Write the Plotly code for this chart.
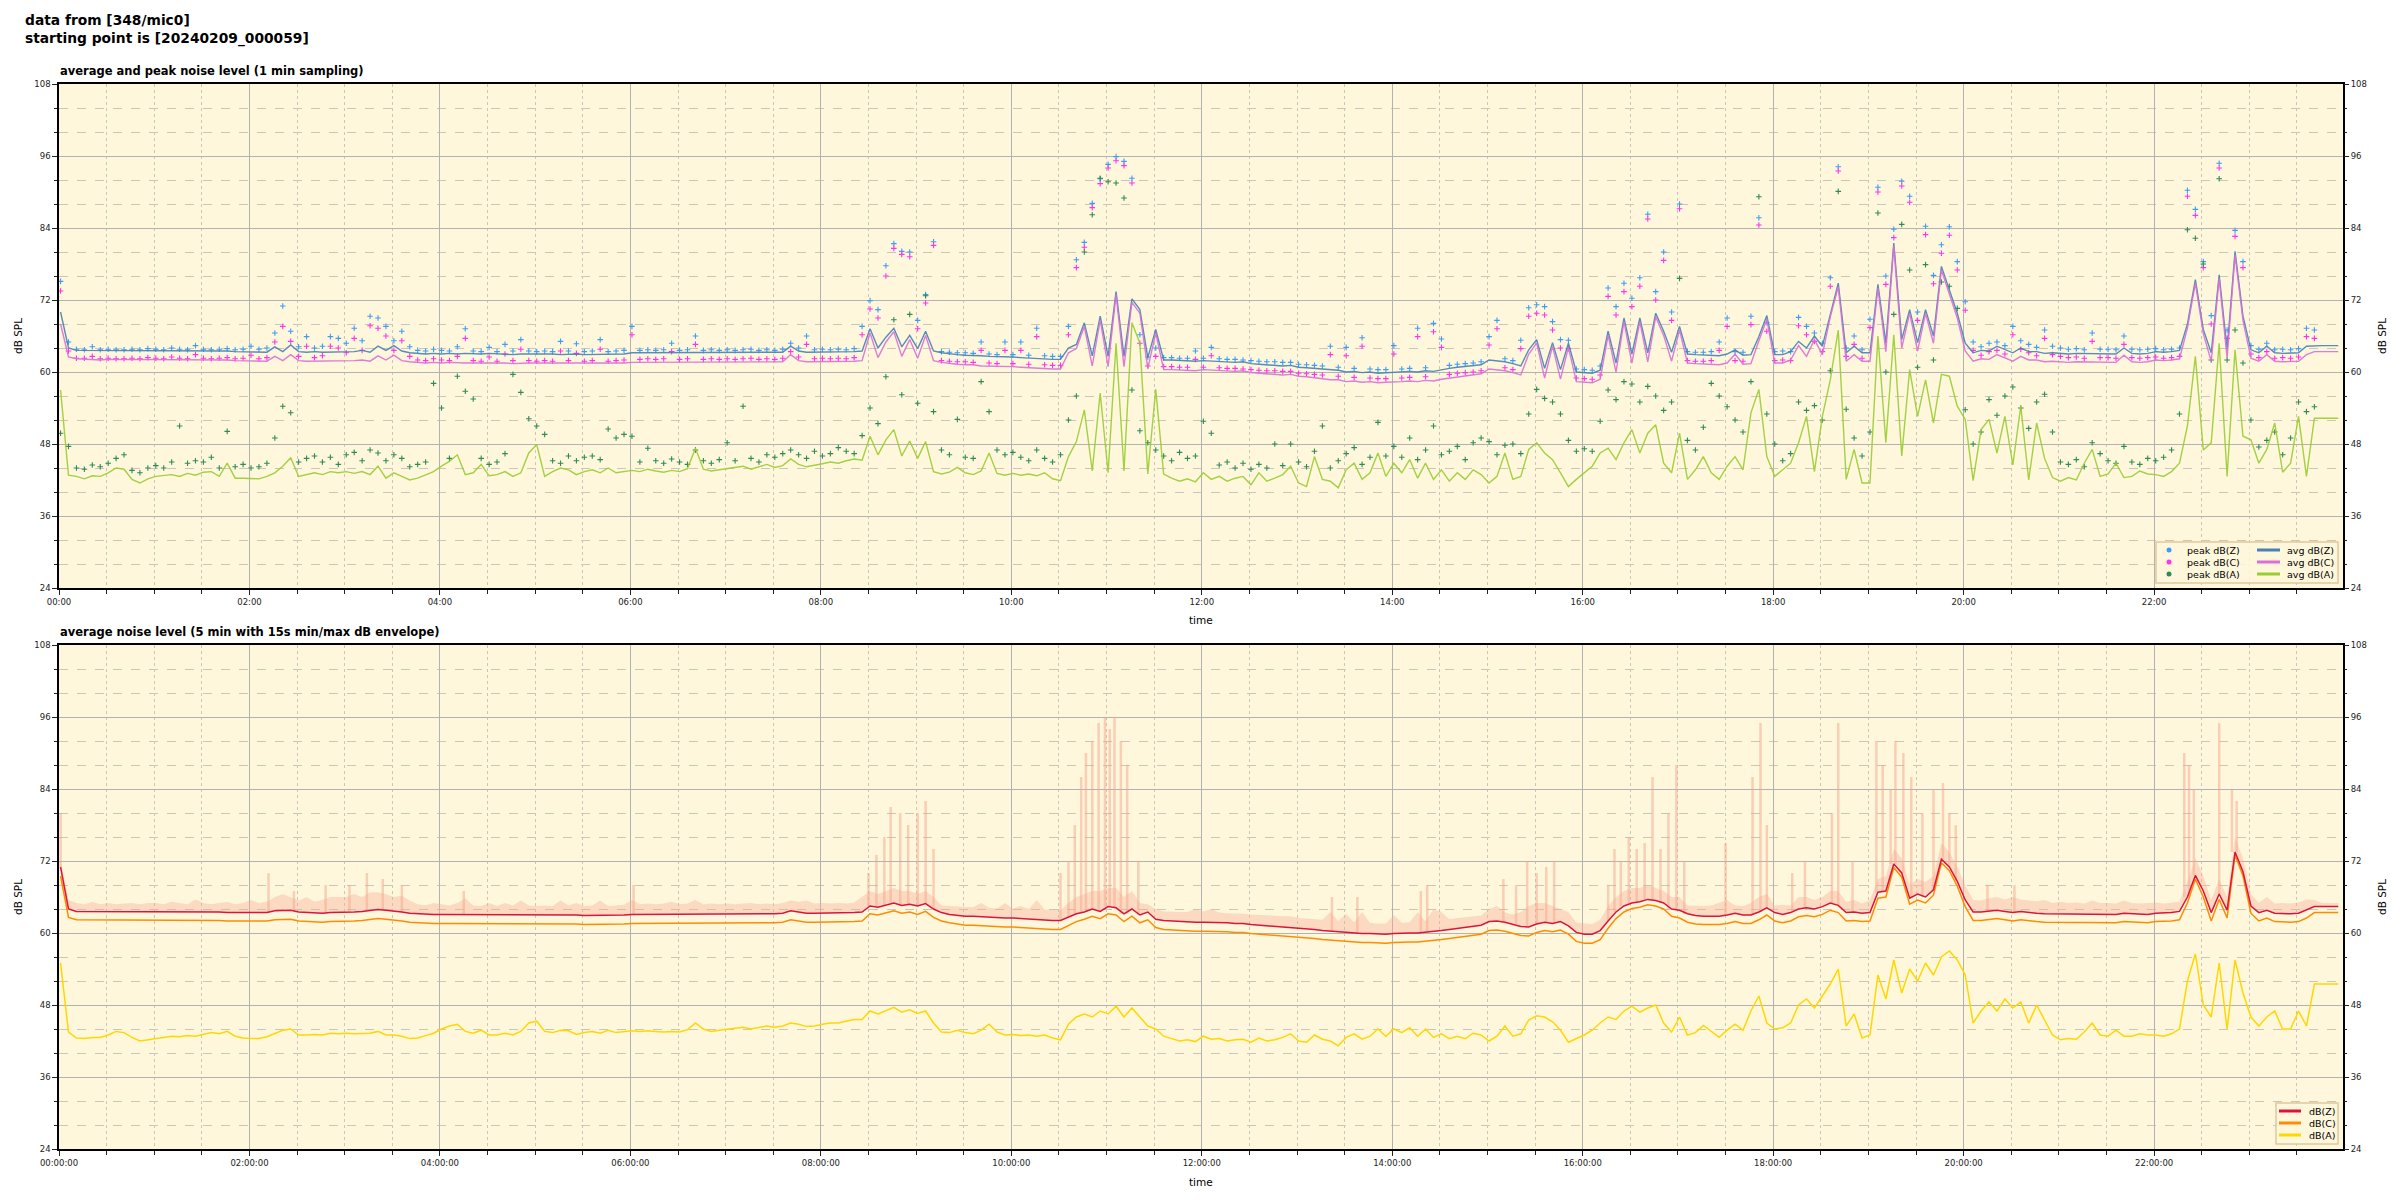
import plotly.graph_objects as go
import pandas as pd

# ---------------- data (5-minute slots, starting 2024-02-09 00:00:59) ----------------
START = "2024-02-09 00:00:59"
DAY = "2024-02-09"
N_SLOTS = 288

avg_z = [
70.0,64.0,63.6,63.6,63.5,63.5,63.6,63.5,63.5,63.6,63.5,63.5,
63.6,63.5,63.6,63.6,63.5,63.5,63.6,63.6,63.5,63.5,63.4,63.4,
63.3,63.3,63.3,64.2,63.4,64.5,63.4,63.3,63.4,63.3,63.3,63.4,
63.3,63.4,63.6,63.3,64.3,63.6,64.4,63.5,63.2,63.1,63.0,63.1,
63.0,63.1,63.0,63.1,63.0,63.0,63.1,63.0,63.0,62.9,63.0,63.0,
63.0,63.1,63.0,62.9,63.0,63.0,62.9,62.9,63.0,62.9,63.0,63.0,
63.2,63.2,63.3,63.2,63.2,63.3,63.2,63.3,63.2,63.2,63.3,63.2,
63.3,63.2,63.2,63.3,63.3,63.2,63.2,63.3,64.3,63.5,63.3,63.3,
63.3,63.3,63.4,63.3,63.4,63.5,67.2,64.0,65.8,67.3,64.2,66.1,
63.9,66.8,63.5,63.2,63.0,62.9,62.8,62.8,62.7,62.6,62.6,62.5,
62.5,62.4,62.3,62.3,62.2,62.1,62.1,64.0,64.6,68.2,62.7,69.3,
62.6,73.4,62.6,72.2,70.4,62.4,67.1,62.0,62.0,61.9,61.8,61.8,
61.9,61.8,61.8,61.7,61.6,61.7,61.4,61.3,61.2,61.2,61.0,61.1,
60.8,60.7,60.6,60.5,60.3,60.3,60.0,60.1,59.9,60.0,59.8,59.9,
59.9,60.0,60.1,60.0,60.2,60.1,60.4,60.6,60.8,60.9,61.0,61.2,
62.0,61.9,61.7,61.4,61.0,63.7,65.4,60.6,64.9,60.4,64.8,60.0,
59.9,59.8,60.3,66.8,61.5,69.0,63.0,69.0,63.2,69.8,66.8,63.3,
67.6,63.0,62.9,62.8,62.8,62.7,63.0,63.7,62.8,62.9,65.9,69.4,
62.9,62.9,63.4,65.1,64.0,66.0,64.3,69.8,74.8,63.2,64.3,63.2,
63.2,74.6,64.8,81.5,65.4,70.4,64.9,70.4,66.0,77.6,73.7,69.8,
64.8,63.2,63.6,63.5,64.3,63.7,63.2,64.0,63.4,63.4,63.1,63.2,
63.1,63.0,63.1,63.1,63.0,63.1,63.1,63.0,64.0,63.1,63.0,63.1,
63.4,63.3,63.4,63.6,68.0,75.4,67.1,63.2,76.2,63.7,80.1,69.3,
63.7,63.2,64.3,63.2,63.1,63.2,63.2,64.3,64.4,64.4,64.4,64.4,
]

avg_c = [
68.0,62.5,62.2,62.1,62.1,62.0,62.1,62.1,62.0,62.1,62.0,62.0,
62.1,62.0,62.1,62.1,62.0,62.0,62.1,62.0,62.0,62.0,61.9,61.9,
61.8,61.8,61.8,62.6,61.9,62.9,61.9,61.8,61.8,61.8,61.8,61.9,
61.8,61.9,62.0,61.8,62.7,62.0,62.8,61.9,61.7,61.6,61.5,61.6,
61.5,61.6,61.5,61.5,61.5,61.5,61.6,61.5,61.5,61.4,61.5,61.5,
61.5,61.5,61.5,61.4,61.5,61.5,61.4,61.4,61.5,61.4,61.5,61.5,
61.6,61.6,61.7,61.6,61.6,61.7,61.6,61.7,61.6,61.6,61.7,61.6,
61.7,61.6,61.6,61.7,61.7,61.6,61.6,61.7,62.9,61.9,61.7,61.7,
61.7,61.7,61.8,61.7,61.8,61.9,66.5,62.4,65.0,66.7,62.6,65.4,
62.3,66.1,61.9,61.6,61.4,61.3,61.2,61.2,61.0,61.0,60.9,60.9,
60.9,60.8,60.7,60.7,60.6,60.5,60.5,63.2,63.9,67.6,61.0,68.7,
60.9,72.9,60.9,71.6,69.8,60.6,66.5,60.4,60.4,60.3,60.3,60.2,
60.4,60.3,60.3,60.2,60.1,60.2,59.9,59.8,59.7,59.7,59.5,59.6,
59.3,59.2,59.0,58.9,58.7,58.7,58.4,58.5,58.3,58.4,58.2,58.3,
58.3,58.4,58.5,58.4,58.6,58.5,58.8,59.0,59.2,59.3,59.5,59.7,
60.5,60.4,60.2,59.9,59.5,63.0,64.8,59.0,64.3,58.8,64.1,58.4,
58.3,58.2,58.8,66.1,60.0,68.4,61.5,68.4,61.7,69.2,66.1,61.8,
67.0,61.5,61.4,61.3,61.3,61.2,61.5,63.0,61.3,61.4,65.2,68.8,
61.5,61.5,62.0,64.4,62.6,65.4,62.9,69.2,74.2,61.8,62.9,61.8,
61.8,74.0,63.4,81.0,64.0,69.8,63.5,69.8,64.8,77.0,73.0,69.0,
63.5,61.8,62.2,62.1,62.9,62.3,61.8,62.6,62.0,62.0,61.7,61.8,
61.7,61.6,61.7,61.7,61.6,61.7,61.7,61.6,62.8,61.7,61.6,61.7,
62.0,61.9,62.0,62.2,67.3,74.8,66.4,61.8,75.6,62.3,79.5,68.6,
62.3,61.8,62.9,61.8,61.7,61.8,61.8,62.9,63.4,63.4,63.4,63.4,
]

avg_a = [
57.0,42.8,42.6,42.2,42.7,42.6,43.2,44.0,43.8,42.1,41.5,42.2,
42.6,42.7,42.9,42.6,43.1,42.8,43.3,43.4,42.6,44.8,42.3,42.3,
42.3,42.2,42.6,43.2,44.3,45.7,42.6,42.9,43.2,42.9,43.4,43.2,
43.4,43.1,43.4,42.9,44.3,42.3,43.2,42.6,42.0,42.3,42.8,43.4,
44.3,45.1,46.2,42.9,43.2,44.6,42.7,42.9,43.4,42.6,43.2,46.5,
47.9,42.6,43.4,44.0,43.7,42.9,43.4,43.7,43.2,44.0,43.2,43.4,
43.6,43.4,43.8,43.5,43.3,43.6,43.4,43.9,47.3,43.8,43.5,43.7,
43.9,44.0,44.3,43.8,44.2,44.6,44.1,44.4,45.5,44.6,44.2,44.4,
44.7,45.0,44.8,45.2,45.5,45.3,49.3,46.2,48.7,50.4,46.0,48.5,
45.6,48.4,43.4,43.0,43.3,44.1,43.2,42.9,43.5,46.5,43.1,42.8,
43.1,42.8,43.0,42.7,43.2,42.2,41.9,45.9,48.4,53.7,43.5,56.5,
43.2,64.8,43.5,68.2,64.8,43.0,57.1,43.0,42.3,41.8,42.2,41.7,
43.2,42.1,42.6,41.8,42.3,42.6,41.2,43.2,41.8,42.3,42.9,44.3,
41.5,40.9,45.9,42.1,41.8,40.7,43.7,44.8,42.1,43.2,46.5,42.6,
44.8,43.2,45.4,42.3,44.8,42.1,43.7,41.8,43.2,42.1,43.7,42.9,
41.5,42.6,46.5,42.1,42.6,47.1,48.2,46.5,45.4,43.2,40.9,42.1,
43.2,44.3,46.5,47.3,45.4,48.2,50.4,46.5,49.8,51.2,44.8,43.2,
49.8,42.1,43.7,45.9,43.2,42.1,44.3,45.9,43.7,53.2,57.1,45.9,
42.6,43.7,44.8,48.2,52.6,43.4,52.6,58.7,67.0,42.1,47.1,41.5,
41.5,66.0,48.2,66.2,46.0,60.4,52.6,58.7,51.5,59.6,59.3,54.3,
52.1,41.9,50.4,52.1,46.5,52.6,44.5,54.3,42.0,51.5,45.6,42.4,
41.8,42.4,42.0,44.8,47.1,42.6,43.0,44.8,42.4,42.6,43.5,43.0,
42.9,42.6,43.4,44.8,51.0,62.6,47.0,48.2,64.8,42.6,63.7,49.3,
48.7,44.8,47.1,51.5,43.3,44.8,52.6,42.6,52.3,52.3,52.3,52.3,
]

peak_z = [
75.1,65.0,63.8,63.7,64.2,63.7,63.8,63.7,63.7,63.8,63.7,63.9,
63.8,63.7,64.0,63.8,63.7,64.4,63.8,63.7,63.8,63.9,63.7,63.8,
64.3,63.8,64.0,66.5,71.0,66.8,64.2,65.9,64.0,64.3,65.9,65.6,
64.8,67.3,65.2,69.3,69.0,67.6,65.2,66.8,64.2,63.6,63.5,63.8,
63.6,63.5,64.2,67.2,63.5,63.4,64.1,63.4,64.6,63.5,65.4,63.5,
63.4,63.5,63.4,65.1,63.5,64.7,63.4,63.5,65.4,63.4,63.5,63.6,
67.6,63.6,63.7,63.6,63.7,64.8,63.6,63.7,66.0,63.6,63.7,63.6,
63.7,63.6,63.7,63.8,63.6,63.7,63.6,63.8,64.8,64.0,66.0,63.7,
63.8,63.7,63.8,63.7,63.9,67.6,71.9,70.4,77.7,81.4,80.1,80.0,
68.6,72.9,81.7,63.4,63.3,63.2,63.2,63.1,65.0,63.0,62.9,65.0,
62.9,65.0,62.8,67.3,62.7,62.6,62.6,67.6,78.7,81.6,88.1,92.2,
94.6,95.9,95.1,92.3,66.2,62.5,64.0,62.4,62.4,62.3,62.3,63.5,
62.3,64.1,62.2,62.1,62.1,62.0,61.9,61.8,61.7,61.7,61.6,61.6,
61.3,61.2,61.1,61.0,64.3,60.8,64.1,60.6,65.7,60.5,60.4,60.4,
64.4,60.5,60.6,67.3,60.7,68.1,65.5,61.1,61.3,61.4,61.5,61.7,
65.9,68.6,62.2,61.9,65.3,70.7,71.2,70.9,68.4,65.4,65.3,60.5,
60.4,60.3,61.0,74.0,70.9,74.8,72.3,75.7,86.3,73.4,80.0,70.0,
88.0,63.4,63.3,63.3,63.4,65.0,69.0,63.4,63.3,69.3,85.7,68.2,
63.4,63.5,63.4,69.1,67.6,66.5,64.8,75.7,94.2,64.0,66.0,63.7,
68.8,90.8,76.0,83.8,91.8,89.3,70.0,84.3,76.1,81.2,84.2,78.4,
71.7,65.0,64.2,64.8,65.0,64.4,67.6,65.2,64.6,64.1,67.0,64.3,
64.0,63.8,63.9,63.7,66.5,63.8,63.8,63.7,66.0,63.8,63.7,63.8,
63.9,63.7,63.8,64.0,90.3,87.1,78.4,69.4,94.8,67.0,83.6,78.4,
64.4,63.8,64.8,63.7,63.8,63.7,63.9,67.3,67.0,None,None,None,
]

peak_c = [
73.5,63.5,62.3,62.3,62.6,62.2,62.3,62.2,62.2,62.3,62.2,62.4,
62.3,62.2,62.5,62.3,62.2,62.9,62.3,62.2,62.3,62.4,62.2,62.3,
62.8,62.2,62.4,65.0,67.6,65.1,62.6,64.3,62.4,62.7,64.3,64.0,
63.2,65.6,63.6,67.7,67.3,66.0,63.6,65.2,62.6,62.0,61.9,62.2,
62.0,61.9,62.6,65.6,61.9,61.8,62.5,61.8,63.0,61.9,63.8,61.9,
61.8,61.9,61.8,63.5,61.9,63.1,61.8,61.9,63.8,61.8,61.9,62.0,
66.2,62.1,62.2,62.1,62.2,63.4,62.1,62.2,64.6,62.1,62.2,62.1,
62.2,62.1,62.2,62.3,62.1,62.2,62.1,62.3,63.4,62.5,64.6,62.2,
62.3,62.2,62.3,62.2,62.4,66.2,70.5,69.0,76.0,80.6,79.6,79.2,
67.2,71.5,81.1,61.9,61.8,61.7,61.7,61.6,63.6,61.5,61.4,63.6,
61.4,63.6,61.3,65.9,61.2,61.1,61.1,66.2,77.4,80.8,87.4,91.4,
94.0,95.2,94.4,91.5,64.8,61.0,62.6,60.9,60.9,60.8,60.8,62.1,
60.8,62.7,60.7,60.6,60.6,60.5,60.4,60.3,60.2,60.2,60.1,60.1,
59.8,59.7,59.6,59.5,62.9,59.3,62.7,59.1,64.3,59.0,58.9,58.9,
63.0,59.0,59.1,65.9,59.2,66.7,64.1,59.6,59.8,59.9,60.0,60.2,
64.5,67.2,60.7,60.4,63.9,69.3,69.8,69.5,67.0,64.0,63.9,59.0,
58.9,58.8,59.5,72.6,69.5,73.4,70.9,74.3,85.5,72.0,78.6,68.6,
87.2,61.9,61.8,61.8,61.9,63.6,67.6,61.9,61.8,67.9,84.5,66.8,
61.9,62.0,61.9,67.7,66.2,65.1,63.4,74.3,93.5,62.6,64.6,62.3,
67.4,90.0,74.6,82.4,91.0,88.3,68.6,82.9,74.7,79.8,82.8,77.0,
70.3,63.6,62.8,63.4,63.6,63.0,66.2,63.8,63.2,62.7,65.6,62.9,
62.6,62.4,62.5,62.3,65.1,62.4,62.4,62.3,64.6,62.4,62.3,62.4,
62.5,62.3,62.4,62.6,89.3,86.1,77.4,68.0,94.0,65.6,82.6,77.4,
63.0,62.4,63.4,62.3,62.4,62.3,62.5,65.9,65.6,None,None,None,
]

peak_a = [
49.8,47.6,44.0,43.8,44.5,44.2,44.8,45.6,46.2,43.6,43.2,44.0,
44.4,44.0,45.0,51.0,44.8,45.2,45.0,45.8,44.0,50.1,44.2,44.6,
44.0,44.2,44.8,49.0,54.3,53.2,45.0,45.6,46.0,45.0,45.8,44.6,
46.2,46.6,45.2,47.0,46.5,45.2,46.2,45.6,44.2,44.6,45.0,58.1,
54.0,45.6,59.3,56.8,55.5,45.6,44.6,45.0,46.4,59.6,56.6,52.2,
51.0,49.6,45.2,44.8,46.0,45.2,45.8,46.0,45.4,50.5,49.0,49.6,
49.3,45.0,47.3,45.2,44.8,45.5,45.0,44.6,47.0,45.2,44.8,45.4,
48.2,45.2,54.3,45.6,45.0,46.2,45.8,46.4,47.0,46.2,45.6,46.8,
46.0,46.4,47.4,46.8,46.4,49.4,54.0,51.4,59.2,68.7,56.2,69.6,
54.8,72.7,53.4,47.0,46.2,52.1,45.8,45.6,58.4,53.4,47.0,46.2,
46.6,45.8,45.2,47.0,45.6,45.0,46.2,52.0,56.0,80.0,86.2,92.3,
91.7,91.5,89.0,57.0,50.2,48.2,47.0,46.0,45.2,46.6,45.6,46.0,
51.8,49.8,44.5,45.0,44.0,44.8,43.8,44.6,44.0,48.0,44.4,48.0,
45.0,44.2,46.8,51.0,44.0,45.2,46.4,47.4,44.6,45.8,51.6,46.0,
47.6,45.8,49.0,45.4,47.0,51.0,46.2,46.8,47.6,45.4,48.2,49.0,
48.4,46.2,47.8,48.0,46.4,53.0,57.1,55.6,55.0,53.0,48.6,46.8,
47.2,46.8,51.8,57.0,55.4,58.4,58.0,55.0,57.6,56.0,53.6,55.0,
75.6,48.6,47.0,50.8,58.1,56.0,54.2,52.0,50.0,58.4,89.2,53.0,
48.0,45.2,46.4,55.0,53.6,54.4,52.0,60.2,90.1,53.8,49.0,46.0,
50.0,86.5,60.0,69.6,84.6,77.0,60.8,77.9,62.0,75.0,74.3,70.6,
53.7,48.0,50.0,55.4,52.8,56.0,57.5,54.0,50.6,55.0,56.3,50.0,
45.0,44.6,45.4,44.2,48.2,46.4,45.2,44.8,47.6,45.0,44.6,45.6,
45.2,45.8,47.0,53.0,83.7,82.3,78.0,62.0,92.2,62.0,67.0,61.5,
52.0,47.5,48.6,50.0,46.2,49.0,55.0,53.4,54.2,None,None,None,
]

# ---- lower panel: 5-min averages
bot_z = [
71.0,64.0,63.6,63.6,63.5,63.5,63.5,63.5,63.5,63.5,63.5,63.5,
63.5,63.5,63.5,63.5,63.5,63.5,63.5,63.5,63.5,63.4,63.4,63.4,
63.3,63.3,63.4,63.7,63.8,63.8,63.5,63.4,63.4,63.3,63.4,63.4,
63.4,63.5,63.6,63.7,63.9,63.8,63.7,63.5,63.3,63.2,63.1,63.1,
63.1,63.1,63.1,63.1,63.0,63.0,63.0,63.0,63.0,63.0,63.0,63.0,
63.0,63.0,63.0,63.0,63.0,63.0,62.9,62.9,63.0,63.0,63.0,63.0,
63.1,63.1,63.2,63.2,63.2,63.2,63.2,63.2,63.2,63.2,63.2,63.2,
63.2,63.2,63.2,63.2,63.2,63.2,63.2,63.3,63.7,63.5,63.3,63.3,
63.3,63.3,63.3,63.3,63.4,63.5,64.5,64.3,64.6,65.0,64.6,64.8,
64.5,64.9,64.0,63.4,63.1,62.9,62.8,62.8,62.7,62.6,62.6,62.5,
62.5,62.4,62.3,62.3,62.2,62.1,62.1,62.6,63.2,63.5,64.0,63.6,
64.4,64.2,63.2,64.0,63.0,63.5,62.3,62.1,62.0,61.9,61.9,61.8,
61.8,61.8,61.8,61.7,61.6,61.6,61.4,61.3,61.2,61.1,61.0,61.0,
60.8,60.7,60.6,60.4,60.3,60.2,60.0,60.0,59.9,59.9,59.8,59.8,
59.9,60.0,60.0,60.0,60.1,60.2,60.4,60.6,60.8,60.9,61.1,61.3,
61.9,62.0,61.8,61.5,61.1,61.0,61.5,61.8,61.6,61.9,61.2,60.1,
59.8,59.8,60.4,62.0,63.5,64.5,65.0,65.2,65.6,65.4,65.0,64.0,
63.8,63.2,62.9,62.8,62.8,62.8,63.0,63.3,63.0,63.0,63.5,64.2,
63.4,63.1,63.4,64.0,64.2,64.0,64.4,65.0,64.6,63.4,63.5,63.3,
63.4,66.8,67.0,71.5,70.0,65.8,66.5,66.0,67.2,72.3,71.0,68.6,
65.5,63.5,63.5,63.6,63.8,63.6,63.4,63.6,63.4,63.3,63.2,63.2,
63.1,63.1,63.1,63.1,63.1,63.1,63.1,63.1,63.3,63.2,63.1,63.1,
63.3,63.3,63.4,63.6,66.0,69.6,67.0,63.4,66.5,63.8,73.5,70.2,
64.5,63.4,63.8,63.3,63.2,63.2,63.3,63.8,64.4,64.4,64.4,64.4,
]

bot_c = [
69.5,62.6,62.2,62.2,62.1,62.1,62.1,62.1,62.1,62.1,62.1,62.1,
62.1,62.1,62.1,62.1,62.1,62.1,62.1,62.1,62.1,62.0,62.0,62.0,
61.9,61.9,62.0,62.2,62.3,62.3,62.0,61.9,61.9,61.8,61.9,61.9,
61.9,62.0,62.1,62.2,62.4,62.3,62.2,62.0,61.8,61.7,61.6,61.6,
61.6,61.6,61.6,61.6,61.5,61.5,61.5,61.5,61.5,61.5,61.5,61.5,
61.5,61.5,61.5,61.5,61.5,61.5,61.4,61.4,61.5,61.5,61.5,61.5,
61.6,61.6,61.7,61.7,61.7,61.7,61.7,61.7,61.7,61.7,61.7,61.7,
61.7,61.7,61.7,61.7,61.7,61.7,61.7,61.8,62.2,62.0,61.8,61.8,
61.8,61.8,61.8,61.8,61.9,62.0,63.2,63.0,63.3,63.7,63.3,63.5,
63.1,63.6,62.6,62.0,61.7,61.5,61.3,61.3,61.2,61.1,61.1,61.0,
61.0,60.9,60.8,60.8,60.7,60.6,60.6,61.2,61.9,62.3,62.8,62.4,
63.2,63.0,61.9,62.8,61.7,62.2,60.9,60.6,60.5,60.4,60.4,60.3,
60.3,60.3,60.3,60.2,60.1,60.1,59.9,59.8,59.7,59.6,59.5,59.5,
59.3,59.2,59.1,58.9,58.8,58.7,58.5,58.5,58.4,58.4,58.3,58.3,
58.4,58.5,58.5,58.5,58.6,58.7,58.9,59.1,59.3,59.4,59.6,59.8,
60.4,60.5,60.3,60.0,59.6,59.5,60.1,60.4,60.2,60.5,59.8,58.6,
58.3,58.3,58.9,60.8,62.4,63.5,64.1,64.3,64.7,64.5,64.0,62.8,
62.5,61.8,61.5,61.4,61.4,61.4,61.6,61.9,61.6,61.6,62.2,63.0,
62.0,61.7,62.0,62.7,62.9,62.7,63.1,63.8,63.4,62.0,62.1,61.9,
62.0,65.8,66.0,70.9,69.3,64.8,65.5,65.0,66.3,71.7,70.4,67.8,
64.4,62.1,62.1,62.2,62.4,62.2,62.0,62.2,62.0,61.9,61.8,61.8,
61.7,61.7,61.7,61.7,61.7,61.7,61.7,61.7,61.9,61.8,61.7,61.7,
61.9,61.9,62.0,62.2,65.0,69.0,66.0,62.0,65.6,62.5,73.0,69.5,
63.3,62.0,62.5,61.9,61.8,61.8,61.9,62.5,63.4,63.4,63.4,63.4,
]

bot_a = [
55.0,43.5,42.5,42.4,42.6,42.6,43.0,43.6,43.4,42.6,42.0,42.2,
42.5,42.7,42.8,42.7,42.9,42.8,43.1,43.4,43.2,43.6,42.8,42.5,
42.4,42.4,42.7,43.2,43.8,44.0,43.0,43.0,43.1,43.0,43.3,43.2,
43.3,43.2,43.3,43.3,43.6,43.0,43.0,42.8,42.4,42.5,42.9,43.3,
44.0,44.5,44.8,43.6,43.3,43.8,43.0,43.0,43.3,43.0,43.6,45.0,
45.3,43.6,43.4,43.8,43.7,43.1,43.4,43.6,43.3,43.8,43.4,43.5,
43.7,43.6,43.7,43.6,43.5,43.6,43.5,43.9,45.0,44.0,43.6,43.8,
44.0,44.1,44.3,44.0,44.2,44.5,44.3,44.5,45.0,44.8,44.4,44.5,
44.8,45.0,45.0,45.3,45.6,45.6,47.0,46.5,47.0,47.6,46.8,47.2,
46.6,47.0,45.0,43.5,43.4,43.8,43.4,43.2,43.8,44.8,43.5,43.0,
43.1,42.9,43.0,42.8,43.0,42.5,42.2,44.8,46.0,46.5,46.0,47.0,
46.5,47.8,46.0,47.5,46.0,44.5,44.0,42.8,42.4,42.0,42.2,41.9,
42.8,42.3,42.4,42.0,42.2,42.3,41.8,42.5,42.0,42.2,42.6,43.2,
42.0,41.8,43.0,42.3,42.0,41.2,42.6,43.2,42.3,42.8,44.0,42.8,
44.0,43.4,44.2,42.8,44.0,42.6,43.2,42.4,42.8,42.4,43.3,43.0,
42.0,42.8,44.5,42.8,43.2,45.5,46.2,46.0,45.2,43.8,41.8,42.4,
43.0,43.8,45.0,46.0,45.6,47.0,47.8,46.8,47.5,48.0,45.0,43.5,
46.0,43.0,43.4,44.6,43.6,42.6,43.8,44.8,43.8,47.0,49.5,45.0,
44.0,44.2,45.0,48.0,49.0,47.5,49.5,51.5,54.0,44.5,46.5,42.5,
43.0,53.0,49.0,55.5,50.0,54.0,52.0,55.0,53.0,56.0,57.0,55.5,
53.0,45.0,47.0,48.5,47.0,49.0,47.5,48.5,45.0,48.0,45.5,43.0,
42.2,42.4,42.3,43.5,45.0,43.0,42.8,43.8,42.8,42.8,43.2,43.0,
43.0,42.8,43.2,44.0,52.0,56.5,48.0,46.0,55.0,44.0,55.5,50.0,
46.0,44.5,46.0,47.0,44.0,44.0,47.0,44.5,51.5,51.5,51.5,51.5,
]

# upper edge of the 15 s envelope band (5-min resolution, quiet level)
bot_zmax = [
72.0,65.5,65.0,64.8,65.2,64.8,65.0,64.8,64.9,65.0,64.8,65.0,
65.0,64.8,65.2,65.0,64.8,65.6,65.0,64.8,65.0,65.2,64.8,65.0,
65.5,65.0,65.2,66.0,66.5,66.0,65.4,66.0,65.2,65.5,66.0,66.0,
66.0,66.5,66.0,66.8,66.8,66.5,66.0,66.2,65.4,64.8,64.6,65.0,
64.8,64.6,65.0,65.8,64.6,64.5,65.0,64.5,65.0,64.6,65.4,64.6,
64.5,64.6,64.5,65.4,64.6,65.0,64.5,64.6,65.4,64.5,64.6,64.7,
65.5,64.8,64.9,64.8,64.9,65.2,64.8,64.9,65.5,64.8,64.9,64.8,
64.9,64.8,64.9,65.0,64.8,64.9,64.8,65.0,65.4,65.2,65.4,64.9,
65.0,64.9,65.0,64.9,65.1,66.0,67.0,66.5,67.0,67.5,67.0,67.0,
66.5,67.0,66.0,64.6,64.5,64.4,64.4,64.3,65.0,64.2,64.1,65.0,
64.1,64.5,64.0,65.5,63.9,63.8,63.8,65.0,66.0,66.5,67.0,67.0,
67.5,67.5,66.0,67.0,65.0,64.8,64.0,63.6,63.6,63.5,63.5,64.0,
63.6,64.0,63.4,63.3,63.3,63.2,63.1,63.0,62.9,62.9,62.8,62.8,
62.5,62.4,62.3,62.2,63.5,62.0,63.2,61.8,63.5,61.7,61.6,61.6,
63.0,61.7,61.8,63.5,61.9,64.0,63.5,62.3,62.5,62.6,62.7,62.9,
64.0,64.5,63.4,63.1,63.5,64.5,65.0,65.0,64.5,64.0,63.5,61.7,
61.6,61.5,62.2,64.5,66.0,67.0,67.5,67.5,68.0,67.5,67.0,66.0,
66.0,64.6,64.5,64.5,64.6,65.0,65.5,64.6,64.5,65.0,66.0,66.5,
64.6,64.7,64.6,66.0,66.0,65.5,66.0,67.0,67.0,65.2,65.5,64.9,
65.5,69.0,69.5,74.0,72.5,68.0,69.0,68.5,69.5,75.0,73.5,71.0,
68.0,65.5,65.4,65.8,66.0,65.6,66.0,65.6,65.5,65.3,65.5,65.0,
65.2,65.0,65.1,64.9,65.4,65.0,65.0,64.9,65.4,65.0,64.9,65.0,
65.1,64.9,65.0,65.2,68.5,72.5,69.5,65.5,69.0,66.0,76.0,72.5,
66.5,65.0,66.0,64.9,65.0,64.9,65.1,65.6,65.5,65.0,65.0,65.0,
]

# short 15 s maxima (needles of the envelope) : time of day and dB(Z)
env_spike_time = [
"00:01","02:12","02:28","02:48","03:03","03:14","03:24","03:36","04:15","06:02",
"08:30","08:35","08:40","08:44","08:50","08:55","09:01","09:06","09:11",
"10:31","10:36","10:40","10:44","10:47","10:51","10:55","10:59","11:02","11:05","11:09","11:13","11:20",
"13:22","13:38","14:18","14:22","15:10","15:18","15:25","15:31","15:37","15:42",
"16:16","16:20","16:24","16:29","16:34","16:39","16:44","16:49","16:54","16:59","17:04",
"17:30","17:47","17:52","17:56","18:12","18:20","18:37","18:41","18:50",
"19:05","19:09","19:14","19:17","19:22","19:27","19:34","19:41","19:47","19:51","19:55",
"20:15","20:32","22:19","22:22","22:25","22:41","22:49","22:52",
]
env_spike_db = [
80,70,67,68,68,70,69,68,67,68,
70,73,76,81,80,78,80,82,74,
70,72,78,86,90,92,95,96,94,96,92,88,72,
66,66,67,68,69,68,72,70,71,72,
68,74,72,76,74,75,86,74,80,88,72,
75,86,95,78,70,72,80,95,72,
92,88,84,92,90,86,80,84,85,80,78,
68,68,90,88,84,95,84,82,
]

# ---------------- styling ----------------
FONT = "DejaVu Sans"
BG = "#fff7dc"
GRID = "#b2b2b2"
MINOR = "#cbc6b8"

W, H = 2400, 1200
L, R, T, B = 59, 2343, 84, 1149
TOP_Y0, TOP_Y1 = 84, 588
BOT_Y0, BOT_Y1 = 645, 1149
PW, PH = R - L, B - T


def px(x):
    return (x - L) / PW


def py(y):
    return (B - y) / PH


times = pd.date_range(START, periods=N_SLOTS, freq="5min")
X_RANGE = [DAY + " 00:00:00", DAY + " 23:59:00"]

fig = go.Figure()

# --- top panel: peak markers
for vals, col in [(peak_z, "#3d9df5"), (peak_c, "#ff33ee"), (peak_a, "#2e8b57")]:
    fig.add_trace(go.Scatter(x=times, y=vals, mode="markers", xaxis="x", yaxis="y",
                             marker=dict(symbol="cross-thin", size=4, line=dict(width=1.1, color=col)),
                             showlegend=False, hoverinfo="skip"))
# --- top panel: avg lines
for vals, col in [(avg_z, "#4682b4"), (avg_c, "#da70d6"), (avg_a, "#9acd32")]:
    fig.add_trace(go.Scatter(x=times, y=vals, mode="lines", xaxis="x", yaxis="y",
                             line=dict(color=col, width=1.4), opacity=0.9,
                             showlegend=False, hoverinfo="skip"))

# --- bottom panel: envelope band (from 5-min Z line up to quiet 15s max)
ENV_COL = "rgba(246,170,150,0.38)"
fig.add_trace(go.Scatter(x=times, y=bot_z, mode="lines", xaxis="x2", yaxis="y2",
                         line=dict(width=0, color="rgba(0,0,0,0)"), showlegend=False, hoverinfo="skip"))
fig.add_trace(go.Scatter(x=times, y=bot_zmax, mode="lines", xaxis="x2", yaxis="y2",
                         line=dict(width=0, color="rgba(0,0,0,0)"), fill="tonexty",
                         fillcolor=ENV_COL, showlegend=False, hoverinfo="skip"))
# envelope needles: from the 5-min Z level at that moment up to the 15 s maximum
nx, ny = [], []
for tstr, val in zip(env_spike_time, env_spike_db):
    ts = pd.Timestamp(DAY + " " + tstr)
    idx = int(round((ts - times[0]).total_seconds() / 300.0))
    idx = max(0, min(N_SLOTS - 1, idx))
    nx += [ts, ts, None]
    ny += [bot_z[idx], val, None]
fig.add_trace(go.Scatter(x=nx, y=ny, mode="lines", xaxis="x2", yaxis="y2",
                         line=dict(color="rgba(246,165,140,0.5)", width=2.5),
                         showlegend=False, hoverinfo="skip"))
for vals, col in [(bot_a, "#ffd700"), (bot_c, "#ff8c00"), (bot_z, "#dc143c")]:
    fig.add_trace(go.Scatter(x=times, y=vals, mode="lines", xaxis="x2", yaxis="y2",
                             line=dict(color=col, width=1.5), showlegend=False, hoverinfo="skip"))

# dummy traces for right-hand axes
fig.add_trace(go.Scatter(x=[times[0]], y=[None], xaxis="x", yaxis="y3", showlegend=False, hoverinfo="skip"))
fig.add_trace(go.Scatter(x=[times[0]], y=[None], xaxis="x2", yaxis="y4", showlegend=False, hoverinfo="skip"))

tickfont = dict(family=FONT, size=8.5, color="#222222")


def yax(domain, side="left", overlaying=None, anchor="x", grid=True):
    d = dict(range=[24, 108], tick0=24, dtick=12, ticks="outside", ticklen=5, tickwidth=1,
             tickcolor="#222222", tickfont=tickfont, zeroline=False, side=side, anchor=anchor,
             fixedrange=True,
             minor=dict(tick0=24, dtick=4, ticks="outside", ticklen=3, tickcolor="#222222",
                        showgrid=grid, gridcolor=MINOR, griddash="dash", gridwidth=1))
    if overlaying:
        d.update(overlaying=overlaying, showgrid=False, showline=False)
    else:
        d.update(domain=domain, showgrid=True, gridcolor=GRID, gridwidth=1.3,
                 showline=True, linecolor="black", linewidth=1.5, mirror=True)
    return d


def xax(anchor, fmt):
    return dict(type="date", range=X_RANGE, tick0=DAY + " 00:00:00", dtick=7200000,
                tickformat=fmt, ticks="outside", ticklen=5, tickwidth=1, tickcolor="#222222",
                tickfont=tickfont, showgrid=True, gridcolor=GRID, gridwidth=1.3,
                showline=True, linecolor="black", linewidth=1.5, mirror=True, anchor=anchor,
                zeroline=False, fixedrange=True, domain=[0, 1],
                minor=dict(dtick=1800000, ticks="outside", ticklen=4, tickcolor="#222222",
                           showgrid=True, gridcolor=MINOR, griddash="dot", gridwidth=1))


top_dom = [py(TOP_Y1), py(TOP_Y0)]
bot_dom = [py(BOT_Y1), py(BOT_Y0)]

fig.update_layout(
    width=W, height=H,
    margin=dict(l=L, r=W - R, t=T, b=H - B, autoexpand=False),
    paper_bgcolor="white", plot_bgcolor=BG,
    font=dict(family=FONT, color="black"),
    showlegend=False,
    xaxis=xax("y", "%H:%M"),
    xaxis2=xax("y2", "%H:%M:%S"),
    yaxis=yax(top_dom, anchor="x"),
    yaxis2=yax(bot_dom, anchor="x2"),
    yaxis3=yax(None, side="right", overlaying="y", anchor="x", grid=False),
    yaxis4=yax(None, side="right", overlaying="y2", anchor="x2", grid=False),
)

ann = []
ann.append(dict(text="<b>data from [348/mic0]<br>starting point is [20240209_000059]</b>",
                xref="paper", yref="paper", x=px(23), y=py(10), xanchor="left", yanchor="top",
                align="left", showarrow=False, font=dict(family=FONT, size=13.8, color="black")))
ann.append(dict(text="<b>average and peak noise level (1 min sampling)</b>",
                xref="paper", yref="paper", x=px(58), y=py(71), xanchor="left", yanchor="middle",
                showarrow=False, font=dict(family=FONT, size=11.5, color="black")))
ann.append(dict(text="<b>average noise level (5 min with 15s min/max dB envelope)</b>",
                xref="paper", yref="paper", x=px(58), y=py(632), xanchor="left", yanchor="middle",
                showarrow=False, font=dict(family=FONT, size=11.5, color="black")))
AX_FONT = dict(family=FONT, size=10.5, color="black")
for yc in [(TOP_Y0 + TOP_Y1) / 2, (BOT_Y0 + BOT_Y1) / 2]:
    ann.append(dict(text="dB SPL", xref="paper", yref="paper", x=px(18), y=py(yc), textangle=-90,
                    xanchor="center", yanchor="middle", showarrow=False, font=AX_FONT))
    ann.append(dict(text="dB SPL", xref="paper", yref="paper", x=px(2382), y=py(yc), textangle=-90,
                    xanchor="center", yanchor="middle", showarrow=False, font=AX_FONT))
for yc in [620, 1182]:
    ann.append(dict(text="time", xref="paper", yref="paper", x=px((L + R) / 2), y=py(yc),
                    xanchor="center", yanchor="middle", showarrow=False, font=AX_FONT))

shapes = []
LEG_FONT = dict(family=FONT, size=9.5, color="black")
LEG_BOX = dict(fillcolor="rgba(255,247,220,0.85)", line=dict(color="#e2c89c", width=1.5))

# top legend (two columns)
shapes.append(dict(type="rect", xref="paper", yref="paper", x0=px(2156), x1=px(2338),
                   y0=py(583), y1=py(542), layer="above", **LEG_BOX))
rows = [550, 562, 574]
peak_items = [("peak dB(Z)", "#3d9df5"), ("peak dB(C)", "#ff33ee"), ("peak dB(A)", "#2e8b57")]
avg_items = [("avg dB(Z)", "#4682b4"), ("avg dB(C)", "#da70d6"), ("avg dB(A)", "#9acd32")]
for ry, (lab, col) in zip(rows, peak_items):
    shapes.append(dict(type="circle", xref="paper", yref="paper", x0=px(2166.5), x1=px(2171.5),
                       y0=py(ry + 2.5), y1=py(ry - 2.5), fillcolor=col, line=dict(width=0), layer="above"))
    ann.append(dict(text=lab, xref="paper", yref="paper", x=px(2185), y=py(ry), xanchor="left",
                    yanchor="middle", showarrow=False, font=LEG_FONT))
for ry, (lab, col) in zip(rows, avg_items):
    shapes.append(dict(type="line", xref="paper", yref="paper", x0=px(2257), x1=px(2280),
                       y0=py(ry), y1=py(ry), line=dict(color=col, width=3), layer="above"))
    ann.append(dict(text=lab, xref="paper", yref="paper", x=px(2285), y=py(ry), xanchor="left",
                    yanchor="middle", showarrow=False, font=LEG_FONT))

# bottom legend
shapes.append(dict(type="rect", xref="paper", yref="paper", x0=px(2276), x1=px(2338),
                   y0=py(1144), y1=py(1103), layer="above", **LEG_BOX))
for ry, (lab, col) in zip([1111, 1123, 1135], [("dB(Z)", "#dc143c"), ("dB(C)", "#ff8c00"), ("dB(A)", "#ffd700")]):
    shapes.append(dict(type="line", xref="paper", yref="paper", x0=px(2279), x1=px(2301),
                       y0=py(ry), y1=py(ry), line=dict(color=col, width=3), layer="above"))
    ann.append(dict(text=lab, xref="paper", yref="paper", x=px(2307), y=py(ry), xanchor="left",
                    yanchor="middle", showarrow=False, font=LEG_FONT))

fig.update_layout(annotations=ann, shapes=shapes)
fig.write_html("out.html", config={"displayModeBar": False},
               post_script="document.body.style.margin='0px';document.body.style.overflow='hidden';")
